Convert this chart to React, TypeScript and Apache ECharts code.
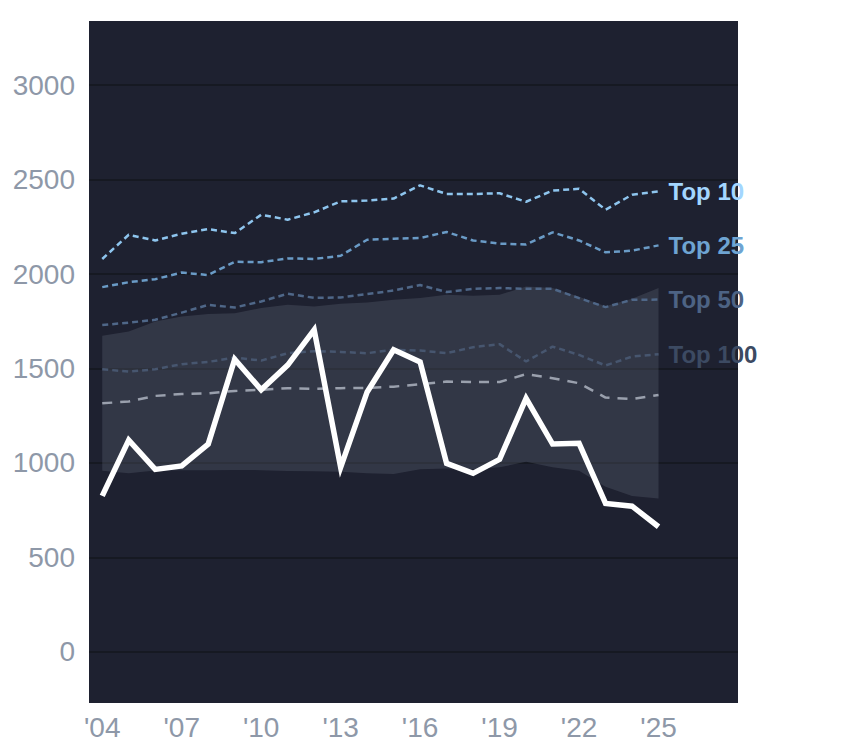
import React, { useEffect, useRef } from "react";
import * as echarts from "echarts";

const years = [2004, 2005, 2006, 2007, 2008, 2009, 2010, 2011, 2012, 2013, 2014, 2015, 2016, 2017, 2018, 2019, 2020, 2021, 2022, 2023, 2024, 2025];
const xTicks = [2004, 2007, 2010, 2013, 2016, 2019, 2022, 2025];
const yTicks = [0, 500, 1000, 1500, 2000, 2500, 3000];

const top10 = [2080, 2208, 2178, 2214, 2238, 2217, 2314, 2288, 2327, 2385, 2389, 2400, 2470, 2424, 2424, 2428, 2383, 2442, 2452, 2341, 2420, 2438];
const top25 = [1931, 1957, 1973, 2008, 1995, 2065, 2063, 2083, 2080, 2097, 2182, 2187, 2191, 2223, 2178, 2161, 2157, 2221, 2178, 2115, 2124, 2152];
const top50 = [1730, 1743, 1758, 1796, 1837, 1823, 1855, 1896, 1874, 1876, 1894, 1913, 1942, 1905, 1922, 1926, 1922, 1922, 1873, 1825, 1864, 1865];
const top100 = [1496, 1484, 1496, 1523, 1535, 1558, 1542, 1581, 1592, 1588, 1581, 1599, 1595, 1581, 1613, 1629, 1537, 1616, 1572, 1516, 1563, 1576];
const median = [1316, 1325, 1355, 1365, 1369, 1381, 1387, 1396, 1392, 1396, 1397, 1404, 1417, 1431, 1429, 1429, 1470, 1449, 1422, 1346, 1339, 1360];
const main = [826, 1121, 966, 984, 1100, 1549, 1387, 1518, 1705, 977, 1376, 1599, 1535, 998, 945, 1019, 1342, 1100, 1104, 786, 771, 662];
const bandLow = [959, 945, 960, 962, 962, 963, 962, 958, 956, 953, 945, 941, 966, 971, 966, 977, 1006, 977, 959, 874, 825, 812];
const bandHigh = [1673, 1696, 1749, 1775, 1789, 1793, 1820, 1837, 1828, 1843, 1850, 1864, 1873, 1890, 1885, 1890, 1934, 1926, 1880, 1830, 1870, 1926];

const FONT = "'Liberation Sans', Arial, sans-serif";

const pairs = (vals: number[]) => years.map((y, i) => [y, vals[i]]);

function tierLine(name: string, vals: number[], color: string, labelColor: string) {
  return {
    name,
    type: "line",
    data: pairs(vals),
    symbol: "none",
    lineStyle: { color, width: 2.5, type: [6, 4] },
    z: 3,
    endLabel: {
      show: true,
      formatter: name,
      distance: 10,
      color: labelColor,
      fontSize: 24,
      fontWeight: "bold",
      fontFamily: FONT,
    },
  };
}

export default function App() {
  const ref = useRef<HTMLDivElement>(null);
  useEffect(() => {
    if (!ref.current) return;
    const chart = echarts.init(ref.current, undefined, { renderer: "svg" });
    chart.setOption({
      animation: false,
      backgroundColor: "#ffffff",
      grid: {
        left: 89,
        top: 21,
        width: 649,
        height: 682,
        show: true,
        backgroundColor: "#1e2130",
        borderWidth: 0,
      },
      xAxis: {
        type: "value",
        min: 2003.5,
        max: 2028,
        axisLine: { show: false },
        axisTick: { show: false, customValues: xTicks },
        splitLine: { show: false },
        axisLabel: {
          customValues: xTicks,
          formatter: (v: number) => "'" + String(v).slice(2),
          color: "#8e98a8",
          fontSize: 28,
          fontFamily: FONT,
          margin: 10,
        },
      },
      yAxis: {
        type: "value",
        min: -271,
        max: 3340,
        axisLine: { show: false },
        axisTick: { show: false, customValues: yTicks },
        splitLine: { show: true, lineStyle: { color: "#161922", width: 2 } },
        axisLabel: {
          customValues: yTicks,
          formatter: (v: number) => String(v),
          color: "#8e98a8",
          fontSize: 28,
          fontFamily: FONT,
          margin: 14,
        },
      },
      series: [
        {
          name: "band",
          type: "custom",
          data: years.map((y, i) => [y, bandLow[i], bandHigh[i]]),
          encode: { x: 0, y: [1, 2] },
          z: 1,
          silent: true,
          renderItem: (params: any, api: any) => {
            if (params.dataIndex !== 0) return null;
            const upper = years.map((y, i) => api.coord([y, bandHigh[i]]));
            const lower = years.map((y, i) => api.coord([y, bandLow[i]])).reverse();
            return {
              type: "polygon",
              shape: { points: upper.concat(lower) },
              style: { fill: "rgba(100,106,121,0.3)" },
            };
          },
        },
        tierLine("Top 10", top10, "#8ec5ee", "#a3d6ff"),
        tierLine("Top 25", top25, "#6a9bc6", "#6ea4d2"),
        tierLine("Top 50", top50, "#4f6788", "#4d6384"),
        tierLine("Top 100", top100, "#47566f", "#3c4a62"),
        {
          name: "median",
          type: "line",
          data: pairs(median),
          symbol: "none",
          lineStyle: { color: "#9aa0ad", width: 2.5, type: [10, 8] },
          z: 3,
        },
        {
          name: "main",
          type: "line",
          data: pairs(main),
          symbol: "none",
          lineStyle: { color: "#ffffff", width: 5.5, join: "miter" },
          z: 4,
        },
      ],
    });
    return () => chart.dispose();
  }, []);
  return (
    <div
      ref={ref}
      style={{ position: "fixed", left: 0, top: 0, width: 844, height: 748 }}
    />
  );
}
